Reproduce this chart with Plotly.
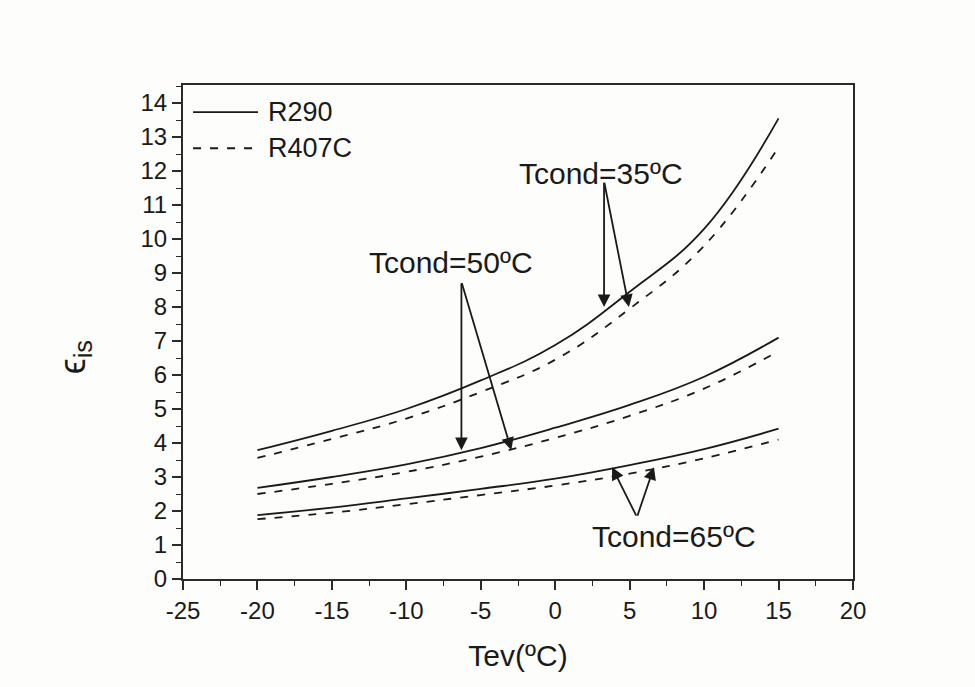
import plotly.graph_objects as go

# Evaporating temperature (ºC)
tev = [-20, -15, -10, -5, 0, 5, 10, 15]

# Isentropic efficiency for each condensing temperature
r290_35 = [3.79, 4.36, 5.0, 5.84, 6.88, 8.45, 10.3, 13.55]
r407c_35 = [3.56, 4.12, 4.72, 5.5, 6.45, 7.95, 9.8, 12.7]
r290_50 = [2.68, 3.0, 3.37, 3.85, 4.45, 5.12, 5.95, 7.1]
r407c_50 = [2.5, 2.8, 3.15, 3.6, 4.15, 4.8, 5.6, 6.7]
r290_65 = [1.88, 2.1, 2.37, 2.65, 2.95, 3.35, 3.82, 4.42]
r407c_65 = [1.76, 1.95, 2.2, 2.47, 2.75, 3.1, 3.55, 4.1]

x_ticks = [-25, -20, -15, -10, -5, 0, 5, 10, 15, 20]
x_labels = [str(v) for v in x_ticks]
y_ticks = list(range(0, 15))
y_labels = [str(v) for v in y_ticks]

FONT = "Liberation Sans, Arial, sans-serif"
INK = "#1a1a1a"
AXC = "#2a2a2a"
SOLID = dict(color=INK, width=1.8)
DASHED = dict(color=INK, width=1.8, dash="8px,9px")

fig = go.Figure()
for ys in (r290_35, r290_50, r290_65):
    fig.add_trace(go.Scatter(x=tev, y=ys, mode="lines", line=dict(SOLID, shape="spline", smoothing=1.2),
                             showlegend=False, hoverinfo="skip"))
for ys in (r407c_35, r407c_50, r407c_65):
    fig.add_trace(go.Scatter(x=tev, y=ys, mode="lines", line=dict(DASHED, shape="spline", smoothing=1.2),
                             showlegend=False, hoverinfo="skip"))

# Labels with arrows: (text, text x, text y, arrow start, arrow tips)
labels = [
    ("Tcond=35ºC", 3.08, 11.94, (3.28, 11.7), [(3.28, 8.0), (4.95, 8.0)]),
    ("Tcond=50ºC", -6.97, 9.32, (-6.3, 8.74), [(-6.3, 3.79), (-2.95, 3.79)]),
    ("Tcond=65ºC", 7.97, 1.24, (5.49, 1.82), [(3.82, 3.29), (6.63, 3.29)]),
]
for text, tx, ty, (sx, sy), tips in labels:
    fig.add_annotation(x=tx, y=ty, text=text, showarrow=False,
                       font=dict(family=FONT, size=30, color=INK))
    for hx, hy in tips:
        fig.add_annotation(x=hx, y=hy, ax=sx, ay=sy, xref="x", yref="y", axref="x", ayref="y",
                           text="", showarrow=True, arrowhead=2, arrowsize=1.4, arrowwidth=1.8,
                           arrowcolor=INK)

# Legend drawn inside the plot box
legend_rows = [("R290", 0.945, SOLID), ("R407C", 0.872, DASHED)]
for name, yy, style in legend_rows:
    fig.add_shape(type="line", xref="paper", yref="paper", x0=0.015, x1=0.112, y0=yy, y1=yy,
                  line=style)
    fig.add_annotation(xref="paper", yref="paper", x=0.124, y=yy, text=name, showarrow=False,
                       xanchor="left", yanchor="middle", font=dict(family=FONT, size=27, color=INK))

# Y-axis title, rotated
fig.add_annotation(xref="paper", yref="paper", x=-0.162, y=0.45, text="ϵ<sub>is</sub>", showarrow=False,
                   textangle=-90, xanchor="center", yanchor="middle",
                   font=dict(family=FONT, size=36, color=INK))

axis_common = dict(
    showgrid=False, zeroline=False, showline=True, linecolor=AXC, linewidth=2, mirror=True,
    ticks="outside", ticklen=9, tickwidth=1.6, tickcolor=AXC,
    tickfont=dict(family=FONT, size=24, color=INK),
)
fig.update_xaxes(axis_common, range=[-25, 20], tickvals=x_ticks, ticktext=x_labels,
                 minor=dict(ticks="outside", ticklen=5, tickwidth=1.4, tickcolor=AXC, dtick=2.5, tick0=-25),
                 title=dict(text="Tev(ºC)", font=dict(family=FONT, size=30, color=INK), standoff=22))
fig.update_yaxes(axis_common, range=[0, 14.53], tickvals=y_ticks, ticktext=y_labels,
                 minor=dict(ticks="outside", ticklen=5, tickwidth=1.4, tickcolor=AXC, dtick=0.5, tick0=0))

fig.update_layout(
    width=975, height=687,
    margin=dict(l=183, r=122, t=85, b=108),
    paper_bgcolor="#fdfdfb", plot_bgcolor="#fdfdfb",
    showlegend=False,
)

fig.write_html("out.html")
